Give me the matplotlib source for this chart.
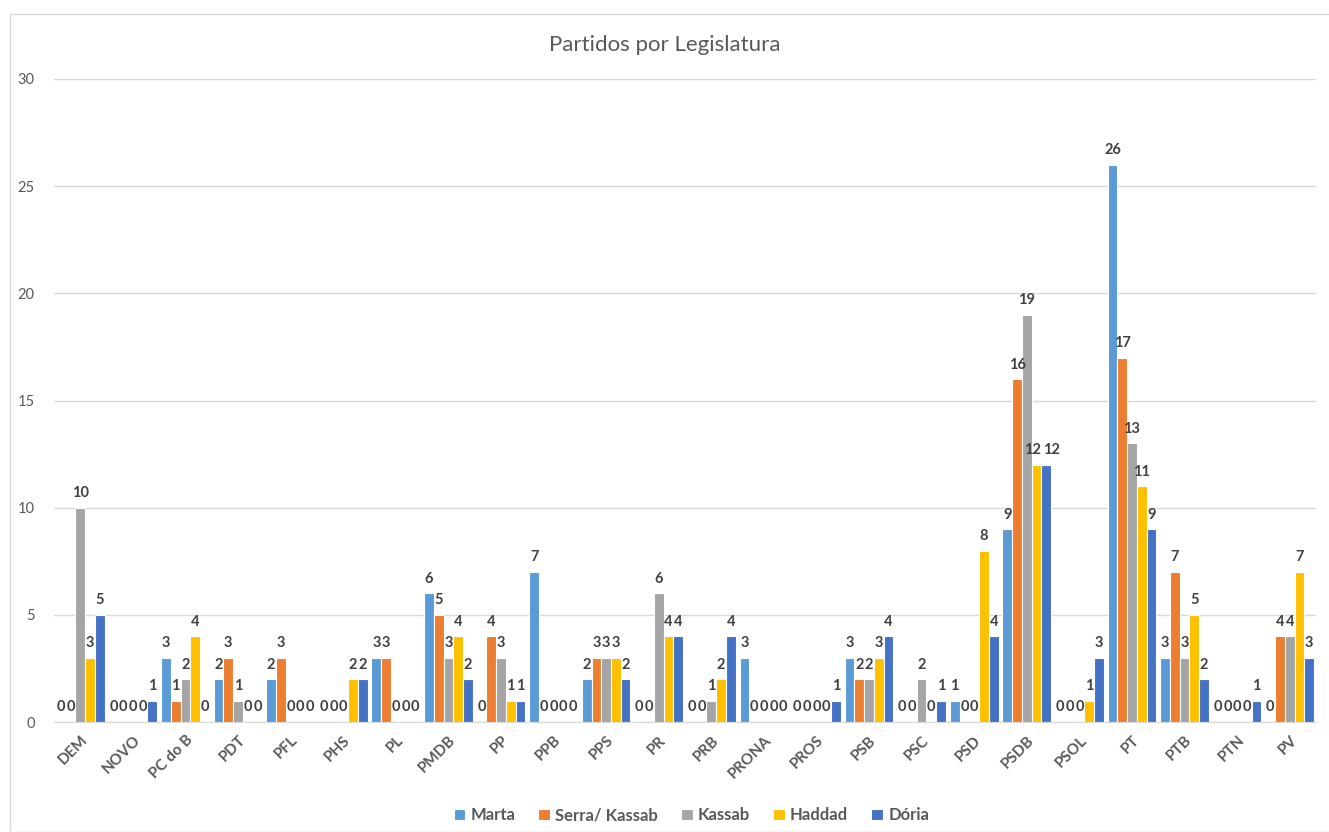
import numpy as np
import matplotlib.pyplot as plt
from matplotlib.patches import Rectangle

plt.rcParams['font.family'] = ['Lato', 'DejaVu Sans']

# Data
partidos = ['DEM', 'NOVO', 'PC do B', 'PDT', 'PFL', 'PHS', 'PL', 'PMDB', 'PP', 'PPB', 'PPS', 'PR',
            'PRB', 'PRONA', 'PROS', 'PSB', 'PSC', 'PSD', 'PSDB', 'PSOL', 'PT', 'PTB', 'PTN', 'PV']
labels = ['Marta', 'Serra/ Kassab', 'Kassab', 'Haddad', 'Dória']
marta = [0, 0, 3, 2, 2, 0, 3, 6, 0, 7, 2, 0, 0, 3, 0, 3, 0, 1, 9, 0, 26, 3, 0, 0]
serra_kassab = [0, 0, 1, 3, 3, 0, 3, 5, 4, 0, 3, 0, 0, 0, 0, 2, 0, 0, 16, 0, 17, 7, 0, 4]
kassab = [10, 0, 2, 1, 0, 0, 0, 3, 3, 0, 3, 6, 1, 0, 0, 2, 2, 0, 19, 0, 13, 3, 0, 4]
haddad = [3, 0, 4, 0, 0, 2, 0, 4, 1, 0, 3, 4, 2, 0, 0, 3, 0, 8, 12, 1, 11, 5, 0, 7]
doria = [5, 1, 0, 0, 0, 2, 0, 2, 1, 0, 2, 4, 4, 0, 1, 4, 1, 4, 12, 3, 9, 2, 1, 3]
data = [marta, serra_kassab, kassab, haddad, doria]
colors = ['#5B9BD5', '#ED7D31', '#A5A5A5', '#FFC000', '#4472C4']

# little nudges for labels that would collide (series index, category index): (dx, dy)
nudges = {(3, 18): (-0.08, 0.0), (4, 18): (0.1, 0.0)}

# Plot
fig = plt.figure(figsize=(13.29, 8.32), dpi=100)
fig.patches.append(Rectangle((10 / 1329, 0), 1.0, 1 - 14 / 832, transform=fig.transFigure,
                             fill=False, edgecolor='#d9d9d9', linewidth=1))
ax = fig.add_axes([54 / 1329, 1 - 722 / 832, (1316 - 54) / 1329, (722 - 79) / 832])

x = np.arange(len(partidos))
w = 0.185
for i in range(len(labels)):
    pos = x + (i - 2) * w
    ax.bar(pos, data[i], width=w, color=colors[i], edgecolor='white', linewidth=0.8,
           label=labels[i], zorder=3)
    for j, (p, v) in enumerate(zip(pos, data[i])):
        dx, dy = nudges.get((i, j), (0, 0))
        ax.text(p + dx, v + 0.35 + dy, str(v), ha='center', va='bottom', fontsize=10.5,
                fontweight='bold', color='#404040', zorder=4)

# Style
ax.set_xlim(-0.5, len(partidos) - 0.5)
ax.set_ylim(0, 30)
ax.set_yticks(np.arange(0, 31, 5))
ax.yaxis.grid(color='#d9d9d9', linewidth=1, zorder=0)
for s in ['top', 'right', 'left']:
    ax.spines[s].set_visible(False)
ax.spines['bottom'].set_color('#d9d9d9')
ax.tick_params(axis='y', length=0, labelsize=10.5, labelcolor='#595959', pad=14)
ax.tick_params(axis='x', length=0, pad=8)
ax.set_xticks(x)
ax.set_xticklabels(partidos, rotation=45, ha='right', rotation_mode='anchor',
                   fontsize=11, fontweight='bold', color='#595959')

ax.legend(loc='center', bbox_to_anchor=(0.505, -0.145), ncol=5, frameon=False,
          handlelength=0.7, handleheight=0.7, handletextpad=0.3,
          columnspacing=1.4, labelcolor='#595959', prop={'weight': 'bold', 'size': 12})

fig.text(0.5, 1 - 45 / 832, 'Partidos por Legislatura', ha='center', va='center',
         fontsize=16, color='#595959')

plt.savefig('out.png', dpi=100)
